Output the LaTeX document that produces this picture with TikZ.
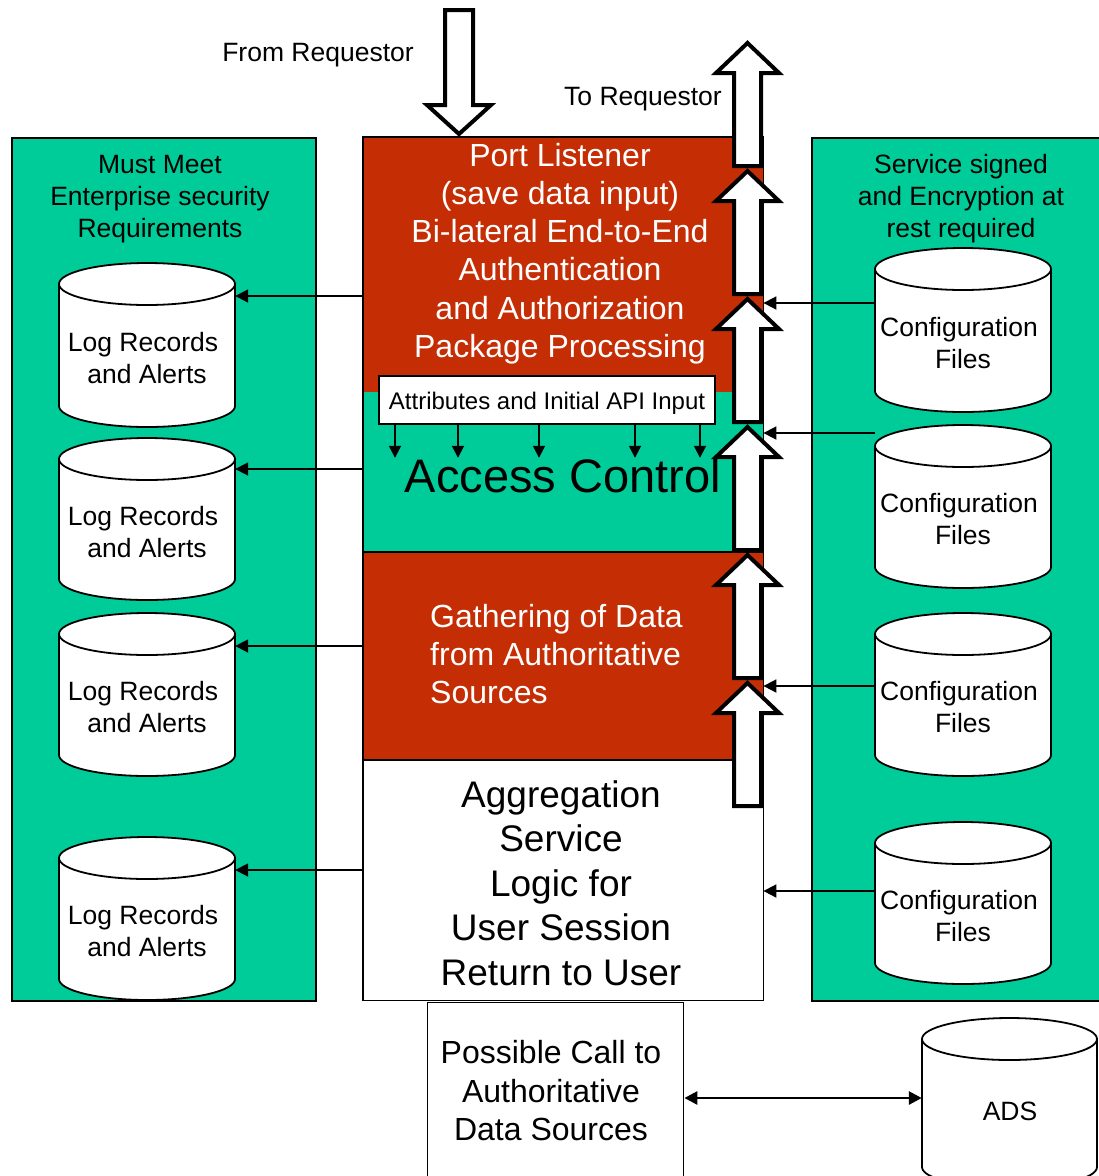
\documentclass[tikz,border=0pt]{standalone}
\usepackage{fontspec}
\setmainfont{Liberation Sans}
\usetikzlibrary{arrows.meta}
\definecolor{brick}{RGB}{197,45,5}
\definecolor{mint}{RGB}{0,204,153}

% database cylinder: name, left, right, top, bottom, label
\newcommand\dbcyl[6]{%
  \pgfmathsetmacro\cylrx{(#3-#2)/2}%
  \pgfmathsetmacro\cylcx{(#3+#2)/2}%
  \pgfmathsetmacro\cylry{21}%
  \draw[cylshape] (#2,-#4-\cylry) -- (#2,-#5+\cylry)
    arc[start angle=180,end angle=360,x radius=\cylrx,y radius=\cylry]
    -- (#3,-#4-\cylry)
    arc[start angle=0,end angle=180,x radius=\cylrx,y radius=\cylry] -- cycle;
  \draw[cylshape,fill=none] (#2,-#4-\cylry)
    arc[start angle=180,end angle=360,x radius=\cylrx,y radius=\cylry];
  \node[inner sep=0,minimum width=#3-#2,minimum height=#5-#4] (#1) at (\cylcx,{-(#4+#5)/2}) {};
  \node[txt] (#1-t) at (\cylcx-4,{-(#4+#5)/2-13}) {#6};
}

% hollow upward block arrow whose tip starts at the given y
\newcommand\blockup[1]{%
  \draw[blockarrow] (747.5,-#1-3) -- (779,-#1-33) -- (761,-#1-33) -- (761,-#1-126)
    -- (734,-#1-126) -- (734,-#1-33) -- (716,-#1-33) -- cycle;
}

\begin{document}
\begin{tikzpicture}[x=1pt,y=1pt,
  panel/.style={fill=mint,draw=black,line width=1.6pt},
  cylshape/.style={fill=white,draw=black,line width=1.8pt},
  txt/.style={align=center,inner sep=0,font=\fontsize{26.5}{32}\selectfont},
  redtxt/.style={align=center,inner sep=0,text=white,font=\fontsize{32}{38.2}\selectfont},
  conn/.style={line width=1.8pt,-{Triangle[length=13pt,width=13pt]}},
  smallarr/.style={line width=1.8pt,-{Triangle[length=12pt,width=12pt]}},
  dblarr/.style={line width=2.8pt,{Triangle[length=13pt,width=13pt]}-{Triangle[length=13pt,width=13pt]}},
  blockarrow/.style={fill=white,draw=black,line width=4pt,miter limit=10},
  sect/.style={anchor=north west,inner sep=0,minimum width=400,draw=none},
]
\useasboundingbox (0,0) rectangle (1099,-1176);
\clip (0,0) rectangle (1099,-1176);
\fill[white] (0,0) rectangle (1099,-1176);

% side panels
\node[panel,anchor=north west,inner sep=0,minimum width=304,minimum height=863] (lpanel) at (11,-137) {};
\node[panel,anchor=north west,inner sep=0,minimum width=300,minimum height=863] (rpanel) at (811,-137) {};
\node[txt] (ltitle) at (160,-199) {Must Meet\\Enterprise security\\Requirements};
\node[txt] (rtitle) at (961,-199) {Service signed\\and Encryption at\\rest required};

% log stores
\dbcyl{L1}{59}{235}{263}{427}{Log Records\\\hspace*{8pt}and Alerts}
\dbcyl{L2}{59}{235}{438}{600}{Log Records\\\hspace*{8pt}and Alerts}
\dbcyl{L3}{59}{235}{613}{776}{Log Records\\\hspace*{8pt}and Alerts}
\dbcyl{L4}{59}{235}{837}{1000}{Log Records\\\hspace*{8pt}and Alerts}

% configuration stores
\dbcyl{R1}{875}{1051}{248}{412}{Configuration\\\hspace*{8pt}Files}
\dbcyl{R2}{875}{1051}{425}{588}{Configuration\\\hspace*{8pt}Files}
\dbcyl{R3}{875}{1051}{613}{776}{Configuration\\\hspace*{8pt}Files}
\dbcyl{R4}{875}{1051}{822}{984}{Configuration\\\hspace*{8pt}Files}

% central processing column
\node[sect,fill=brick,minimum height=255] (port) at (363,-137) {};
\node[sect,fill=mint,minimum height=160] (acc) at (363,-392) {};
\node[sect,fill=brick,minimum height=208] (gather) at (363,-552) {};
\node[sect,fill=white,minimum height=240] (agg) at (363,-760) {};
\draw[line width=1.4pt] (port.north west) rectangle (agg.south east);
\draw[line width=1.4pt] (gather.north west) -- (gather.north east);
\draw[line width=1.4pt] (agg.north west) -- (agg.north east);

\node[redtxt] (portlbl) at (560,-253.5) {Port Listener\\(save data input)\\Bi-lateral End-to-End\\Authentication\\and Authorization\\Package Processing};
\node[draw=black,fill=white,line width=1.6pt,inner sep=0,minimum width=336,minimum height=48] (attr) at (547,-400) {};
\node[inner sep=0,font=\fontsize{24}{29}\selectfont] (attrlbl) at (547,-403) {Attributes and Initial API Input};
\foreach \ax in {395,458,539,635,700}
  \draw[smallarr] (attr.south -| \ax,0) -- ++(0,-33);
\node[inner sep=0,font=\fontsize{47}{56}\selectfont] (acclbl) at (563,-476) {Access Control};
\node[redtxt,align=left,anchor=west] (gatherlbl) at (430,-654) {Gathering of Data\\from Authoritative\\Sources};
\node[txt,font=\fontsize{37}{44.5}\selectfont] (agglbl) at (561,-883) {Aggregation\\Service\\Logic for\\User Session\\Return to User};

% external call and data source
\node[draw=black,fill=white,line width=1.4pt,anchor=north west,inner sep=0,minimum width=256,minimum height=190] (call) at (427,-1002) {};
\node[txt,font=\fontsize{32}{38.5}\selectfont] (calllbl) at (551,-1091) {Possible Call to\\Authoritative\\Data Sources};
\dbcyl{ADS}{922}{1097}{1018}{1188}{}
\node[txt] (adslbl) at (1010,-1111) {ADS};
\draw[dblarr] (call.east |- 0,-1098) -- (ADS.west |- 0,-1098);

% request in and response out
\node[txt] (fromlbl) at (318,-55) {From Requestor};
\node[txt] (tolbl) at (643,-99) {To Requestor};
\draw[blockarrow] (445,-10) -- (473,-10) -- (473,-105) -- (491,-105) -- (459,-134)
  -- (427,-105) -- (445,-105) -- cycle;
\foreach \ty in {40,168,296,424,552,680} {\blockup{\ty}}

% logging connectors
\draw[conn] (port.west |- 0,-296) -- (L1.east |- 0,-296);
\draw[conn] (acc.west |- 0,-469) -- (L2.east |- 0,-469);
\draw[conn] (gather.west |- 0,-646) -- (L3.east |- 0,-646);
\draw[conn] (agg.west |- 0,-870) -- (L4.east |- 0,-870);

% configuration connectors
\draw[conn] (R1.west |- 0,-303) -- (port.east |- 0,-303);
\draw[conn] (R2.west |- 0,-433) -- (acc.east |- 0,-433);
\draw[conn] (R3.west |- 0,-686) -- (gather.east |- 0,-686);
\draw[conn] (R4.west |- 0,-891) -- (agg.east |- 0,-891);
\end{tikzpicture}
\end{document}
